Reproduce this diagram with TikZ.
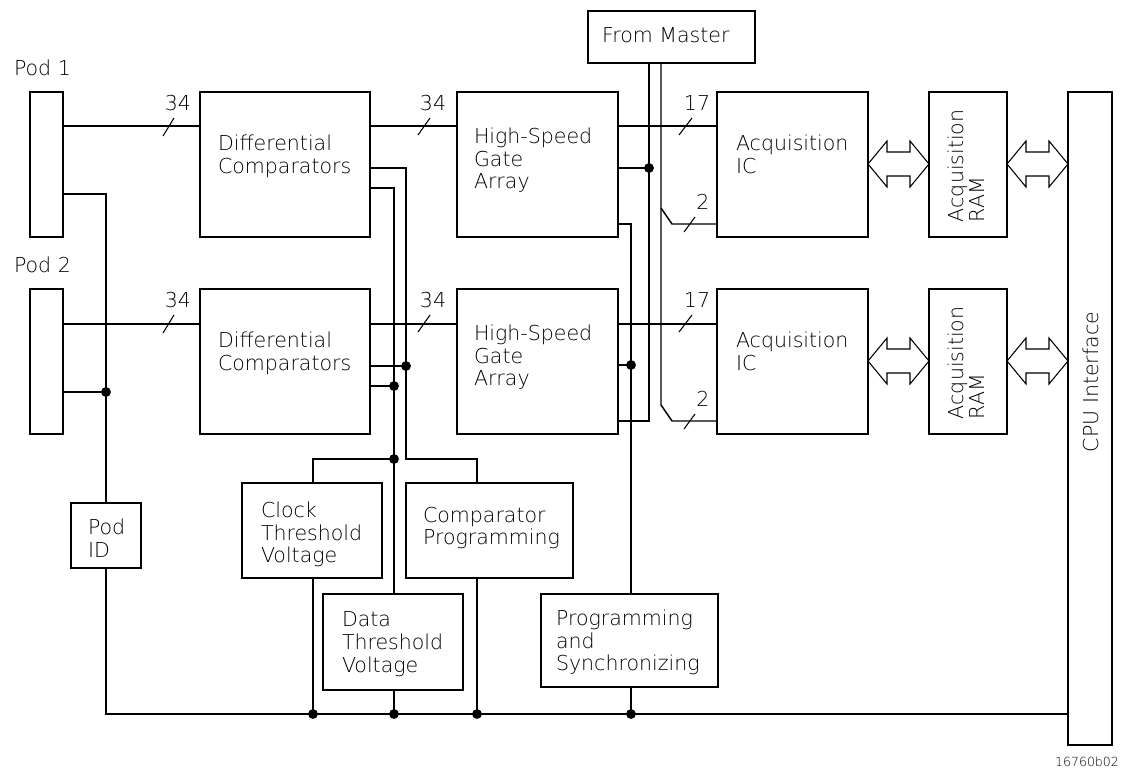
\documentclass[tikz,border=0pt]{standalone}
\usepackage{fontspec}
\setmainfont{DejaVu Sans ExtraLight}
\newcommand{\blkbox}[5]{\node[blk, minimum width={(#4-#2)*0.75pt}, minimum height={(#5-#3)*0.75pt}] (#1) at ({(#2+#4)/2},{(#3+#5)/2}) {};}
\newcommand{\dblarrow}[3]{\draw[arr] (#1,#3) -- ({#1+19},{#3-23}) -- ({#1+19},{#3-12}) -- ({#2-19},{#3-12}) -- ({#2-19},{#3-23}) -- (#2,#3) -- ({#2-19},{#3+23}) -- ({#2-19},{#3+12}) -- ({#1+19},{#3+12}) -- ({#1+19},{#3+23}) -- cycle;}
\tikzset{
  wire/.style={line width=1.1pt},
  slash/.style={line width=0.8pt},
  arr/.style={line width=0.8pt, line join=miter},
  blk/.style={draw, line width=1.1pt, inner sep=0pt, outer sep=0pt},
  lbl/.style={inner sep=0pt, outer sep=0pt, align=left, anchor=north west, font=\fontsize{15.4}{17}\selectfont},
  num/.style={inner sep=0pt, outer sep=0pt, font=\fontsize{15.4}{17}\selectfont},
}
\begin{document}
\begin{tikzpicture}[x=0.75pt,y=-0.75pt]
\useasboundingbox (0,0) rectangle (1134,772);
% boxes
\blkbox{pod1}{30}{92}{63}{237}
\blkbox{pod2}{30}{289}{63}{434}
\blkbox{dc1}{200}{92}{370}{237}
\blkbox{dc2}{200}{289}{370}{434}
\blkbox{ga1}{457}{92}{618}{237}
\blkbox{ga2}{457}{289}{618}{434}
\blkbox{fm}{588}{11}{755}{63}
\blkbox{ic1}{717}{92}{868}{237}
\blkbox{ic2}{717}{289}{868}{434}
\blkbox{ram1}{929}{92}{1007}{237}
\blkbox{ram2}{929}{289}{1007}{434}
\blkbox{cpu}{1068}{92}{1112}{745}
\blkbox{podid}{71}{503}{141}{568}
\blkbox{ctv}{242}{483}{382}{578}
\blkbox{cp}{406}{483}{573}{578}
\blkbox{dtv}{323}{594}{463}{690}
\blkbox{ps}{541}{594}{718}{687}
% junctions
\coordinate (jpod) at (106,392);
\coordinate (jA) at (406,366);
\coordinate (jB) at (394,386);
\coordinate (jC) at (394,459);
\coordinate (jD) at (649,168);
\coordinate (jE) at (631,365);
\coordinate (b1) at (313,714);
\coordinate (b2) at (394,714);
\coordinate (b3) at (477,714);
\coordinate (b4) at (631,714);
% wires
\draw[wire] (pod1.east |- 0,126) -- (dc1.west |- 0,126);
\draw[wire] (pod1.east |- 0,194) -| (podid.north);
\draw[wire] (pod2.east |- 0,324) -- (dc2.west |- 0,324);
\draw[wire] (pod2.east |- jpod) -- (jpod);
\draw[wire] (podid.south) |- (cpu.west |- 0,714);
\draw[wire] (dc1.east |- 0,126) -- (ga1.west |- 0,126);
\draw[wire] (dc1.east |- 0,168) -- (406,168) -- (406,459) -- (477,459) -- (cp.north -| 477,0);
\draw[wire] (dc1.east |- 0,188) -- (394,188) -- (dtv.north -| 394,0);
\draw[wire] (dc2.east |- 0,324) -- (ga2.west |- 0,324);
\draw[wire] (dc2.east |- jA) -- (jA);
\draw[wire] (dc2.east |- jB) -- (jB);
\draw[wire] (jC) -- (313,459) -- (ctv.north -| 313,0);
\draw[wire] (ctv.south -| 313,0) -- (b1);
\draw[wire] (dtv.south -| 394,0) -- (b2);
\draw[wire] (cp.south -| 477,0) -- (b3);
\draw[wire] (ga1.east |- 0,126) -- (ic1.west |- 0,126);
\draw[wire] (ga2.east |- 0,324) -- (ic2.west |- 0,324);
\draw[wire] (ga1.east |- jD) -- (jD);
\draw[wire] (fm.south -| 649,0) -- (649,421) -- (ga2.east |- 0,421);
\draw[wire] (fm.south -| 661,0) -- (661,405) -- (672,421) -- (ic2.west |- 0,421);
\draw[wire] (661,208) -- (672,224) -- (ic1.west |- 0,224);
\draw[wire] (ga1.east |- 0,224) -- (631,224) -- (ps.north -| 631,0);
\draw[wire] (ga2.east |- jE) -- (jE);
\draw[wire] (ps.south -| 631,0) -- (b4);
\foreach \p in {jpod,jA,jB,jC,jD,jE,b1,b2,b3,b4} \fill (\p) circle (3.7pt);
% bus-width slashes
\draw[slash] (163,136) -- (174,118);
\draw[slash] (163,333) -- (174,315);
\draw[slash] (418,135) -- (430,118);
\draw[slash] (418,332) -- (430,315);
\draw[slash] (679,135) -- (692,118);
\draw[slash] (679,332) -- (692,315);
\draw[slash] (684,232) -- (695,217);
\draw[slash] (684,429) -- (695,414);
\node[num] (n1) at (178,103) {34};
\node[num] (n2) at (178,300) {34};
\node[num] (n3) at (433,103) {34};
\node[num] (n4) at (433,300) {34};
\node[num] (n5) at (697,103) {17};
\node[num] (n6) at (697,300) {17};
\node[num] (n7) at (703,202) {2};
\node[num] (n8) at (703,399) {2};
% double arrows
\dblarrow{868}{929}{164}
\dblarrow{1007}{1068}{164}
\dblarrow{868}{929}{361}
\dblarrow{1007}{1068}{361}
% texts
\node[lbl] (tpod1) at (14,60) {Pod 1};
\node[lbl] (tpod2) at (14,257) {Pod 2};
\node[lbl] (tdc1) at (218,135) {Differential\\Comparators};
\node[lbl] (tdc2) at (218,332) {Differential\\Comparators};
\node[lbl] (tga1) at (474,128) {High-Speed\\Gate\\Array};
\node[lbl] (tga2) at (474,325) {High-Speed\\Gate\\Array};
\node[lbl] (tfm) at (602,28) {From Master};
\node[lbl] (tic1) at (736,135) {Acquisition\\IC};
\node[lbl] (tic2) at (736,332) {Acquisition\\IC};
\node[lbl, rotate=90, font=\fontsize{15.4}{15.5}\selectfont] (tram1) at (948,222) {Acquisition\\RAM};
\node[lbl, rotate=90, font=\fontsize{15.4}{15.5}\selectfont] (tram2) at (948,419) {Acquisition\\RAM};
\node[lbl, rotate=90] (tcpu) at (1083,452) {CPU Interface};
\node[lbl] (tpodid) at (88,519) {Pod\\ID};
\node[lbl] (tctv) at (261,502) {Clock\\Threshold\\Voltage};
\node[lbl] (tcp) at (423,507) {Comparator\\Programming};
\node[lbl] (tdtv) at (342,612) {Data\\Threshold\\Voltage};
\node[lbl] (tps) at (556,610) {Programming\\and\\Synchronizing};
\node[anchor=north, inner sep=0pt, font=\fontsize{9.4}{11}\selectfont] (fig) at (1087,757) {16760b02};
\end{tikzpicture}
\end{document}
